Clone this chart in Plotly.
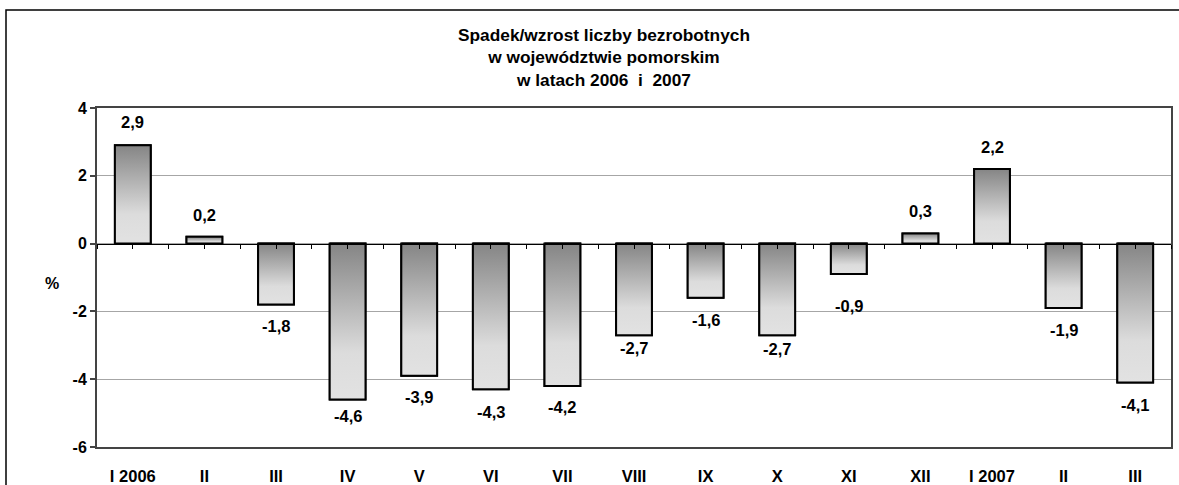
import plotly.graph_objects as go

categories = ["I 2006", "II", "III", "IV", "V", "VI", "VII", "VIII", "IX", "X",
              "XI", "XII", "I 2007", "II", "III"]
values = [2.9, 0.2, -1.8, -4.6, -3.9, -4.3, -4.2, -2.7, -1.6, -2.7,
          -0.9, 0.3, 2.2, -1.9, -4.1]
labels = [f"{v:.1f}".replace(".", ",") for v in values]
y_ticks = [-6, -4, -2, 0, 2, 4]
y_tick_labels = [str(t) for t in y_ticks]
# pixel distance of each value label from its bar end (as placed in the original)
label_offsets = [23, 22, 21, 16, 21, 23, 21, 13, 22, 14, 32, 22, 22, 22, 22]

FONT = "Liberation Sans, Arial, sans-serif"
W, H = 1179, 485
L, R, T, B = 97, 8, 108, 38
pw, ph = W - L - R, H - T - B
half = 0.25
idx = list(range(len(categories)))

fig = go.Figure()

# bar marks (outline); gradient fill drawn by polygons on top
fig.add_trace(go.Bar(x=idx, y=values, width=2 * half,
                     marker=dict(color="rgba(0,0,0,0)", line=dict(color="black", width=2)),
                     hoverinfo="skip", showlegend=False))

for i, v in zip(idx, values):
    lo, hi = min(0, v), max(0, v)
    fig.add_trace(go.Scatter(
        x=[i - half, i + half, i + half, i - half, i - half],
        y=[0, 0, v, v, 0],
        mode="lines", fill="toself",
        line=dict(color="black", width=2),
        fillgradient=dict(type="vertical", start=lo, stop=hi,
                          colorscale=[[0, "#e2e2e2"], [0.3, "#dcdcdc"], [1, "#858585"]]),
        hoverinfo="skip", showlegend=False))

for i, v, t, off in zip(idx, values, labels, label_offsets):
    fig.add_annotation(x=i, y=v, text=t, showarrow=False,
                       yshift=off if v >= 0 else -off,
                       font=dict(family=FONT, size=16.5, color="black", weight="bold"))

fig.add_annotation(xref="paper", yref="paper", x=(43 - L) / pw, y=(H - B - 283) / ph,
                   text="%", showarrow=False,
                   font=dict(family=FONT, size=16, color="black", weight="bold"))

# outer chart border
fig.add_shape(type="rect", xref="paper", yref="paper",
              x0=(6 - L) / pw, x1=(W + 10 - L) / pw,
              y0=(H - B - (H + 10)) / ph, y1=(H - B - 10) / ph,
              line=dict(color="black", width=1.5), fillcolor="rgba(0,0,0,0)", layer="below")

fig.update_layout(
    width=W, height=H,
    margin=dict(l=L, r=R, t=T, b=B, autoexpand=False),
    paper_bgcolor="white", plot_bgcolor="white",
    showlegend=False,
    title=dict(text="Spadek/wzrost liczby bezrobotnych<br>w województwie pomorskim<br>w latach 2006  i  2007",
               x=(604 - L) / pw, xref="paper", xanchor="center",
               y=1 - 41 / H, yref="container", yanchor="middle", automargin=False,
               font=dict(family=FONT, size=17.3, color="black", weight="bold")),
    xaxis=dict(range=[-0.5, len(categories) - 0.5], tickmode="array", automargin=False,
               tickvals=idx, ticktext=categories, showgrid=False, zeroline=False,
               showline=True, linecolor="#444", linewidth=2, mirror=True,
               ticks="", ticklabelstandoff=13,
               tickfont=dict(family=FONT, size=16.5, color="black", weight="bold")),
    xaxis2=dict(overlaying="x", anchor="free", position=0.6, side="bottom", automargin=False,
                range=[-0.5, len(categories) - 0.5], tickmode="linear", tick0=-0.5, dtick=0.5,
                showticklabels=False, showgrid=False, zeroline=False,
                showline=True, linecolor="black", linewidth=1,
                ticks="outside", ticklen=4, tickcolor="black", tickwidth=1),
    yaxis=dict(range=[-6, 4], tickmode="array", tickvals=y_ticks, ticktext=y_tick_labels,
               automargin=False,
               showgrid=True, gridcolor="#a6a6a6", gridwidth=1, zeroline=False,
               showline=True, linecolor="#444", linewidth=2, mirror=True,
               ticks="outside", ticklen=5, tickcolor="#444", tickwidth=1.5,
               tickfont=dict(family=FONT, size=16, color="black", weight="bold")),
)
# invisible trace to activate xaxis2
fig.add_trace(go.Scatter(x=[0], y=[0], xaxis="x2", mode="markers",
                         marker=dict(opacity=0), hoverinfo="skip", showlegend=False))

fig.write_html("out.html", config={"displayModeBar": False},
               post_script="document.body.style.margin='0px';")
